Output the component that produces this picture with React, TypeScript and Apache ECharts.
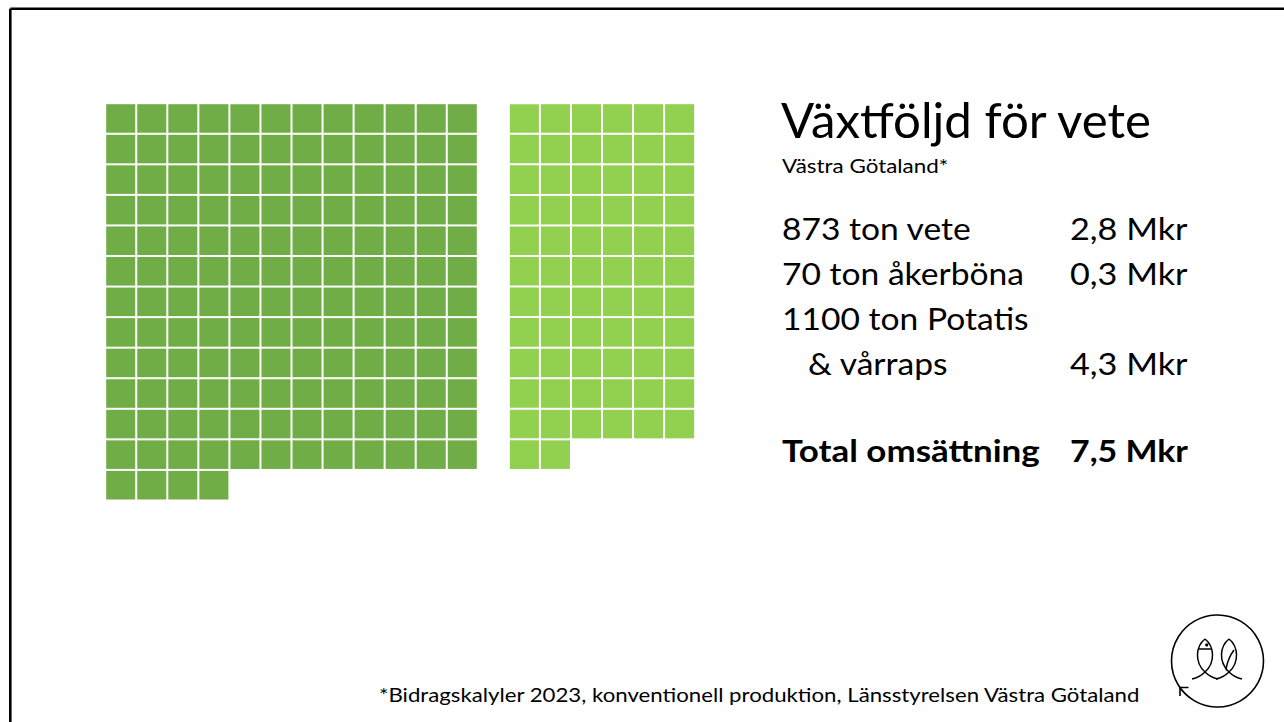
import React, { useEffect, useRef } from "react";
import * as echarts from "echarts";

// ---- Data ----
const blockNames = ["Vete", "Åkerböna, potatis & vårraps"];
const blockCounts = [148, 68];
const blockColumns = [12, 6];
const blockColumnStart = [0, 13];
const gridColumns = 19;
const gridRows = 13;

const titleText = "Växtföljd för vete";
const subtitleText = "Västra Götaland*";
const statLabels = ["873 ton vete", "70 ton åkerböna", "1100 ton Potatis", "& vårraps"];
const statValues = ["2,8 Mkr", "0,3 Mkr", "", "4,3 Mkr"];
const totalLabel = "Total omsättning";
const totalValue = "7,5 Mkr";
const footnoteText =
  "*Bidragskalyler 2023, konventionell produktion, Länsstyrelsen Västra Götaland";

const FONT = "Lato, 'Noto Sans', sans-serif";

function buildCells(b: number): number[][] {
  const cells: number[][] = [];
  for (let i = 0; i < blockCounts[b]; i++) {
    const col = blockColumnStart[b] + (i % blockColumns[b]);
    const row = Math.floor(i / blockColumns[b]);
    cells.push([col, row]);
  }
  return cells;
}

echarts.graphic.registerShape(
  "fishLeft",
  echarts.graphic.extendPath(
    "M12 1 C3 8 1 24 12 34 C15 37 20 40 25 41 M12 1 C21 8 23 24 12 34 C9 37 4 40 -1 41 M5 11 L19 11",
    {}
  )
);
echarts.graphic.registerShape(
  "fishRight",
  echarts.graphic.extendPath(
    "M36 1 C27 8 25 24 36 34 C39 37 44 40 49 41 M36 1 C45 8 47 24 36 34 C33 37 28 40 23 41 M30 25 L33 31 Q35 20 41 12",
    {}
  )
);

function txt(text: string, x: number, baseline: number, size: number, scaleX: number, bold = false) {
  return {
    type: "text",
    x,
    y: baseline - 0.3 * size,
    scaleX,
    style: {
      text,
      font: `${bold ? "bold " : ""}${size}px ${FONT}`,
      fill: "#000",
      verticalAlign: "middle",
    },
  };
}

export default function App() {
  const ref = useRef<HTMLDivElement>(null);
  useEffect(() => {
    document.body.style.margin = "0";
    const chart = echarts.init(ref.current!, null, { renderer: "svg" });
    const colors = ["#70AD47", "#92D050"];
    const cats = Array.from({ length: gridColumns }, (_, i) => String(i));
    const rows = Array.from({ length: gridRows }, (_, i) => String(i));

    const bodyBaselines = [237.7, 282.7, 327.7, 372.7];
    const bodyFont = 30;
    const graphics: any[] = [
      {
        type: "line",
        shape: { x1: 10.3, y1: 8.7, x2: 1290, y2: 8.7 },
        style: { stroke: "#000", lineWidth: 2.6 },
      },
      {
        type: "line",
        shape: { x1: 10.3, y1: 8.7, x2: 10.3, y2: 730 },
        style: { stroke: "#000", lineWidth: 2.6 },
      },
      txt(titleText, 781, 134, 48, 1.025),
      txt(subtitleText, 782, 171, 19, 1.18),
    ];
    statLabels.forEach((lab, i) => {
      graphics.push(txt(lab, i === 3 ? 808 : 782, bodyBaselines[i], bodyFont, 1.12));
      if (statValues[i]) {
        graphics.push(txt(statValues[i], 1070, bodyBaselines[i], bodyFont, 1.14));
      }
    });
    graphics.push(
      txt(totalLabel, 782, 459.5, bodyFont, 1.165, true),
      txt(totalValue, 1070, 459.5, bodyFont, 1.13, true),
      txt(footnoteText, 379, 699.5, 19.5, 1.14),
      {
        type: "circle",
        shape: { cx: 1217.5, cy: 661, r: 46 },
        style: { fill: "none", stroke: "#000", lineWidth: 1.6 },
      },
      {
        type: "polyline",
        shape: { points: [[1180, 696], [1180, 687.5], [1188.5, 687.5]] },
        style: { fill: "none", stroke: "#000", lineWidth: 1.6 },
      },
      {
        type: "fishLeft",
        x: 1193,
        y: 638,
        style: { fill: "none", stroke: "#000", lineWidth: 1.5 },
      },
      {
        type: "fishRight",
        x: 1193,
        y: 638,
        style: { fill: "none", stroke: "#000", lineWidth: 1.5 },
      },
      {
        type: "circle",
        shape: { cx: 1206.7, cy: 645, r: 1.6 },
        style: { fill: "#000" },
      }
    );

    chart.setOption({
      animation: false,
      backgroundColor: "#fff",
      grid: { left: 105.2, top: 103.2, width: gridColumns * 31.05, height: gridRows * 30.56 },
      xAxis: { type: "category", data: cats, show: false, boundaryGap: true },
      yAxis: { type: "category", data: rows, show: false, inverse: true, boundaryGap: true },
      graphic: graphics,
      series: blockNames.map((name, b) => ({
        name,
        type: "custom",
        data: buildCells(b),
        renderItem: (params: any, api: any) => {
          const p = api.coord([api.value(0), api.value(1)]);
          const s = api.size([1, 1]);
          return {
            type: "rect",
            shape: { x: p[0] - s[0] / 2 + 1, y: p[1] - s[1] / 2 + 1, width: s[0] - 2, height: s[1] - 2 },
            style: { fill: colors[b] },
          };
        },
      })),
    });
    return () => chart.dispose();
  }, []);
  return <div ref={ref} style={{ width: 1284, height: 722, position: "absolute", left: 0, top: 0 }} />;
}
